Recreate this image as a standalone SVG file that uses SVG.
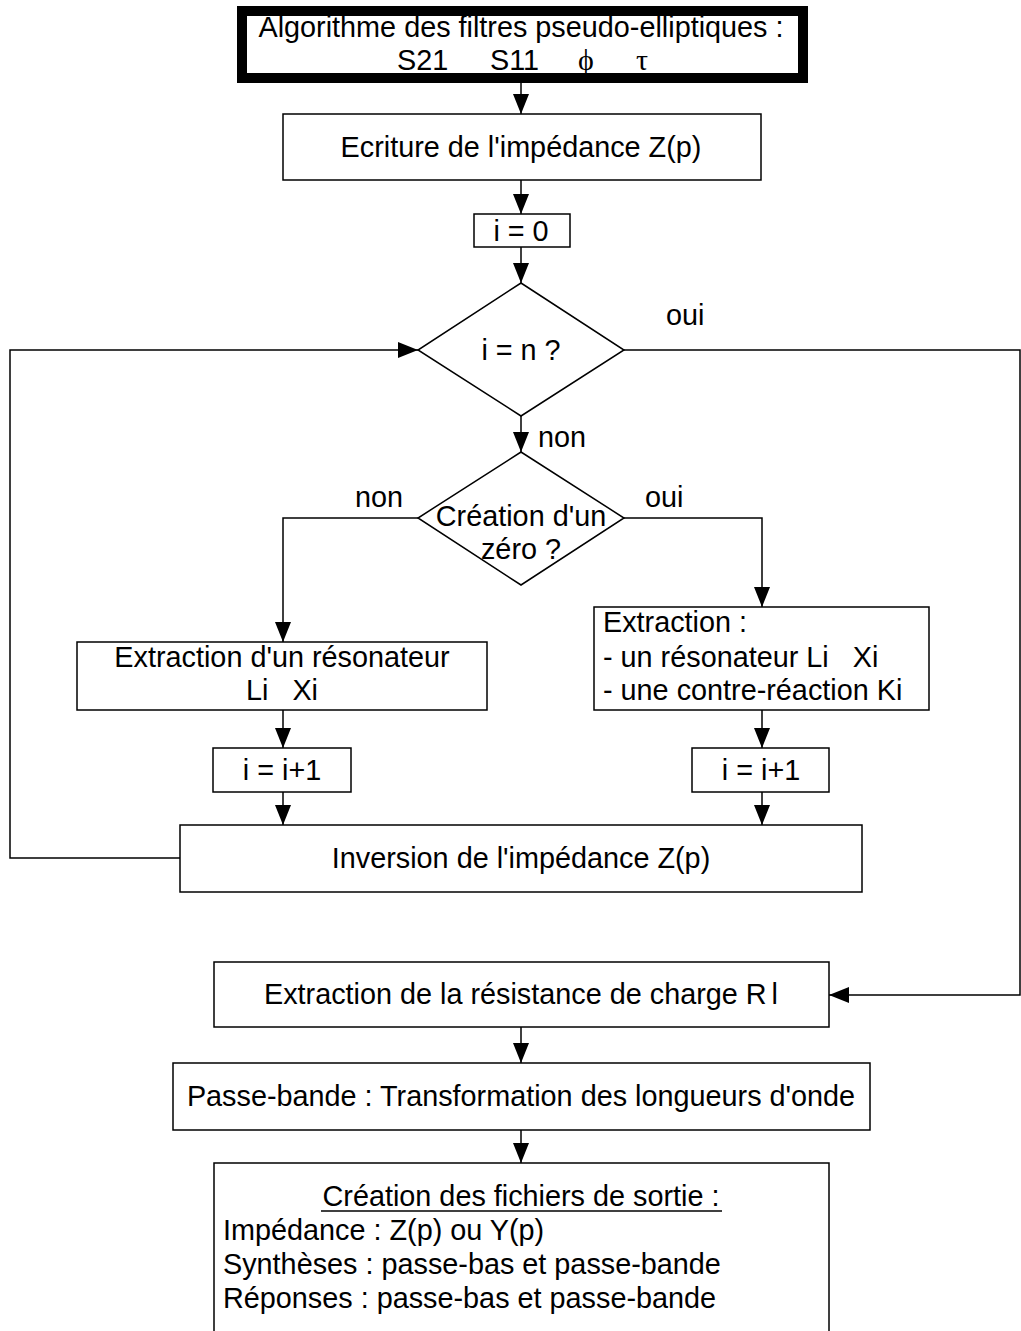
<svg xmlns="http://www.w3.org/2000/svg" width="1021" height="1331" viewBox="0 0 1021 1331">
  <style>
    .box { fill: #ffffff; stroke: #000000; stroke-width: 1.5; }
    .wire { fill: none; stroke: #000000; stroke-width: 1.5; }
    .t { font-family: "Liberation Sans", Arial, sans-serif; font-size: 28.8px; fill: #000000; }
    .c { text-anchor: middle; }
    .sym { font-family: "Liberation Serif", "Times New Roman", serif; font-size: 30px; fill: #000000; }
  </style>
  <defs>
    <marker id="arrow" markerUnits="userSpaceOnUse" markerWidth="22" markerHeight="18" refX="20" refY="8" orient="auto">
      <path d="M0,0 L20,8 L0,16 z" fill="#000000"/>
    </marker>
  </defs>
  <rect width="1021" height="1331" fill="#ffffff"/>

  <!-- connectors -->
  <g id="connectors">
    <line class="wire" x1="521" y1="83" x2="521" y2="114" marker-end="url(#arrow)"/>
    <line class="wire" x1="521" y1="180" x2="521" y2="214" marker-end="url(#arrow)"/>
    <line class="wire" x1="521" y1="247" x2="521" y2="283" marker-end="url(#arrow)"/>
    <line class="wire" x1="521" y1="416" x2="521" y2="452" marker-end="url(#arrow)"/>
    <polyline class="wire" points="180,858 10,858 10,350 418,350" marker-end="url(#arrow)"/>
    <polyline class="wire" points="624,350 1020,350 1020,995 829,995" marker-end="url(#arrow)"/>
    <polyline class="wire" points="418,518 283,518 283,642" marker-end="url(#arrow)"/>
    <polyline class="wire" points="624,518 762,518 762,607" marker-end="url(#arrow)"/>
    <line class="wire" x1="283" y1="710" x2="283" y2="748" marker-end="url(#arrow)"/>
    <line class="wire" x1="762" y1="710" x2="762" y2="748" marker-end="url(#arrow)"/>
    <line class="wire" x1="283" y1="792" x2="283" y2="825" marker-end="url(#arrow)"/>
    <line class="wire" x1="762" y1="792" x2="762" y2="825" marker-end="url(#arrow)"/>
    <line class="wire" x1="521" y1="1027" x2="521" y2="1063" marker-end="url(#arrow)"/>
    <line class="wire" x1="521" y1="1130" x2="521" y2="1163" marker-end="url(#arrow)"/>
    <text class="t" x="666" y="325">oui</text>
    <text class="t" x="538" y="447">non</text>
    <text class="t" x="355" y="507">non</text>
    <text class="t" x="645" y="507">oui</text>
  </g>

  <!-- title -->
  <g id="title">
    <rect x="242" y="11" width="561" height="67" fill="#ffffff" stroke="#000000" stroke-width="10"/>
    <text class="t c" x="521" y="37">Algorithme des filtres pseudo-elliptiques :</text>
    <text class="t" x="397" y="70">S21</text>
    <text class="t" x="490" y="70">S11</text>
    <text class="sym" x="578" y="70">ϕ</text>
    <text class="sym" x="636" y="70">τ</text>
  </g>

  <g id="ecriture">
    <rect class="box" x="283" y="114" width="478" height="66"/>
    <text class="t c" x="521" y="157">Ecriture de l'impédance Z(p)</text>
  </g>

  <g id="init">
    <rect class="box" x="474" y="214" width="96" height="33"/>
    <text class="t c" x="521" y="241">i = 0</text>
  </g>

  <g id="test-n">
    <polygon class="box" points="521,283 624,350 521,416 418,350"/>
    <text class="t c" x="521" y="360">i = n ?</text>
  </g>

  <g id="test-zero">
    <polygon class="box" points="521,452 624,518 521,585 418,518"/>
    <text class="t c" x="521" y="526">Création d'un</text>
    <text class="t c" x="521" y="559">zéro ?</text>
  </g>

  <g id="extract-resonator">
    <rect class="box" x="77" y="642" width="410" height="68"/>
    <text class="t c" x="282" y="667">Extraction d'un résonateur</text>
    <text class="t c" x="282" y="700" xml:space="preserve">Li   Xi</text>
  </g>

  <g id="extract-feedback">
    <rect class="box" x="594" y="607" width="335" height="103"/>
    <text class="t" x="603" y="632">Extraction :</text>
    <text class="t" x="603" y="667" xml:space="preserve">- un résonateur Li   Xi</text>
    <text class="t" x="603" y="700">- une contre-réaction Ki</text>
  </g>

  <g id="incr-left">
    <rect class="box" x="213" y="748" width="138" height="44"/>
    <text class="t c" x="282" y="780">i = i+1</text>
  </g>

  <g id="incr-right">
    <rect class="box" x="692" y="748" width="137" height="44"/>
    <text class="t c" x="761" y="780">i = i+1</text>
  </g>

  <g id="inversion">
    <rect class="box" x="180" y="825" width="682" height="67"/>
    <text class="t c" x="521" y="868">Inversion de l'impédance Z(p)</text>
  </g>

  <g id="load">
    <rect class="box" x="214" y="962" width="615" height="65"/>
    <text class="t c" x="521" y="1004">Extraction de la résistance de charge R<tspan dx="5">l</tspan></text>
  </g>

  <g id="bandpass">
    <rect class="box" x="173" y="1063" width="697" height="67"/>
    <text class="t c" x="521" y="1106">Passe-bande : Transformation des longueurs d'onde</text>
  </g>

  <g id="outputs">
    <rect class="box" x="214" y="1163" width="615" height="180"/>
    <text class="t c" x="521" y="1206">Création des fichiers de sortie :</text>
    <line x1="321" y1="1211" x2="722" y2="1211" stroke="#000000" stroke-width="1.5"/>
    <text class="t" x="223" y="1240">Impédance : Z(p) ou Y(p)</text>
    <text class="t" x="223" y="1274">Synthèses : passe-bas et passe-bande</text>
    <text class="t" x="223" y="1308">Réponses : passe-bas et passe-bande</text>
  </g>
</svg>
